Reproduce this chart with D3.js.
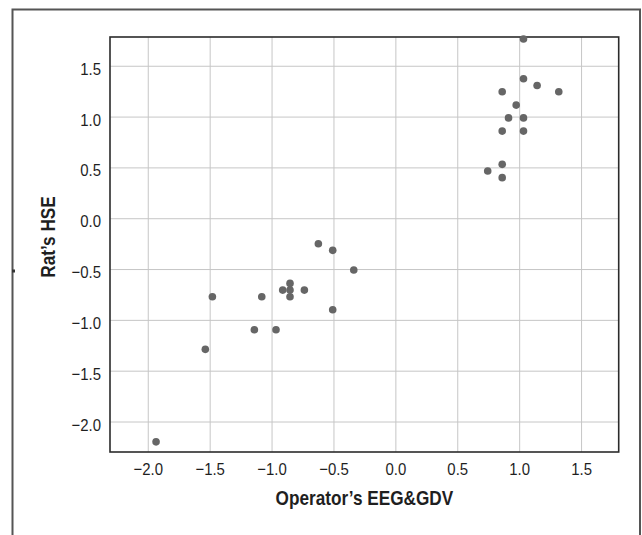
<!DOCTYPE html>
<html>
<head>
<meta charset="utf-8">
<script src="https://cdn.jsdelivr.net/npm/d3@7"></script>
<style>
  html, body { margin: 0; padding: 0; background: #fff; }
  svg { display: block; }
</style>
</head>
<body>
<svg id="chart" width="642" height="535"></svg>
<script>
// Operator's EEG&GDV score against the rat's HSE score, one dot per pair
const eegGdv = [
  1.035, 1.035, 1.145, 0.863, 1.32, 0.976, 0.914, 1.035, 0.863, 1.035,
  0.863, 0.746, 0.863,
  -0.622, -0.506, -0.336, -0.851, -0.91, -0.851, -0.735, -0.851, -1.079,
  -1.478, -0.506, -1.139, -0.964, -1.535, -1.933
];
const ratHse = [
  1.763, 1.372, 1.306, 1.244, 1.244, 1.113, 0.987, 0.987, 0.857, 0.857,
  0.53, 0.465, 0.399,
  -0.251, -0.316, -0.51, -0.641, -0.707, -0.707, -0.707, -0.772, -0.772,
  -0.772, -0.90, -1.097, -1.097, -1.29, -2.2
];
const xTicks = [-2.0, -1.5, -1.0, -0.5, 0.0, 0.5, 1.0, 1.5];
const yTicks = [-2.0, -1.5, -1.0, -0.5, 0.0, 0.5, 1.0, 1.5];
const xDomain = [-2.305, 1.804];
const yDomain = [-2.30, 1.783];
const xTitle = "Operator’s EEG&GDV";
const yTitle = "Rat’s HSE";

const svg = d3.select("#chart");
const plot = { left: 110, right: 618.7, top: 37, bottom: 452 };

const x = d3.scaleLinear().domain(xDomain).range([plot.left, plot.right]);
const y = d3.scaleLinear().domain(yDomain).range([plot.bottom, plot.top]);
const fmt = d => d3.format(".1f")(d).replace("-", "\u2212");
const squeeze = 0.88;

// outer frame of the figure (runs off the bottom edge)
svg.append("path")
  .attr("d", "M12.5,560 V9.5 H640 V560")
  .attr("fill", "none")
  .attr("stroke", "#555")
  .attr("stroke-width", 2);
svg.append("line")
  .attr("x1", 12).attr("x2", 15).attr("y1", 271).attr("y2", 271)
  .attr("stroke", "#333").attr("stroke-width", 3);

// grid lines drawn through the axis generators
const gridStyle = g => {
  g.select(".domain").remove();
  g.selectAll(".tick line").attr("stroke", "#c6c6c6").attr("stroke-width", 1);
  g.selectAll(".tick text").remove();
};
svg.append("g")
  .attr("transform", `translate(0,${plot.bottom})`)
  .call(d3.axisBottom(x).tickValues(xTicks).tickSize(-(plot.bottom - plot.top)))
  .call(gridStyle);
svg.append("g")
  .attr("transform", `translate(${plot.left},0)`)
  .call(d3.axisLeft(y).tickValues(yTicks).tickSize(-(plot.right - plot.left)))
  .call(gridStyle);

// tick labels, slightly condensed
const labelStyle = g => {
  g.select(".domain").remove();
  g.selectAll(".tick line").remove();
  g.selectAll(".tick text")
    .attr("fill", "#1f1f1f")
    .style("font-family", "'Liberation Sans', Arial, sans-serif")
    .style("font-size", "17px");
};
const xAxis = svg.append("g")
  .attr("transform", `translate(0,${plot.bottom})`)
  .call(d3.axisBottom(x).tickValues(xTicks).tickFormat(fmt).tickSize(0))
  .call(labelStyle);
xAxis.selectAll(".tick text")
  .attr("y", 11).attr("dy", "0.71em")
  .attr("transform", `scale(${squeeze},1)`);

const yAxis = svg.append("g")
  .attr("transform", `translate(${plot.left},0)`)
  .call(d3.axisLeft(y).tickValues(yTicks).tickFormat(fmt).tickSize(0))
  .call(labelStyle);
yAxis.selectAll(".tick text")
  .attr("x", -9 / squeeze).attr("dy", "0.5em")
  .attr("transform", `scale(${squeeze},1)`);

// plot frame
svg.append("rect")
  .attr("x", plot.left).attr("y", plot.top)
  .attr("width", plot.right - plot.left).attr("height", plot.bottom - plot.top)
  .attr("fill", "none").attr("stroke", "#2b2b2b").attr("stroke-width", 1.6);

// points
svg.append("g")
  .selectAll("circle")
  .data(eegGdv.map((v, i) => [v, ratHse[i]]))
  .join("circle")
  .attr("cx", d => x(d[0]))
  .attr("cy", d => y(d[1]))
  .attr("r", 3.8)
  .attr("fill", "#666");

// axis titles
svg.append("text")
  .attr("transform", `translate(${(plot.left + plot.right) / 2},505) scale(0.86,1)`)
  .attr("text-anchor", "middle")
  .attr("fill", "#1f1f1f")
  .style("font-family", "'Liberation Sans', Arial, sans-serif")
  .style("font-weight", "bold")
  .style("font-size", "20px")
  .text(xTitle);

svg.append("text")
  .attr("transform", "translate(55,237) rotate(-90) scale(0.86,1)")
  .attr("text-anchor", "middle")
  .attr("fill", "#1f1f1f")
  .style("font-family", "'Liberation Sans', Arial, sans-serif")
  .style("font-weight", "bold")
  .style("font-size", "20px")
  .text(yTitle);
</script>
</body>
</html>
